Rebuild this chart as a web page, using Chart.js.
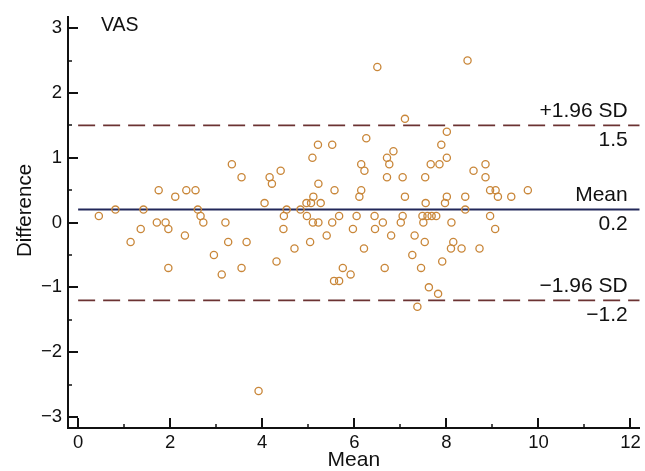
<!DOCTYPE html>
<html>
<head>
<meta charset="utf-8">
<script src="https://cdn.jsdelivr.net/npm/chart.js@4.4.1/dist/chart.umd.min.js"></script>
<style>
  html, body { margin: 0; padding: 0; background: #ffffff; }
  #wrap { width: 645px; height: 471px; }
</style>
</head>
<body>
<div id="wrap"><canvas id="c" width="645" height="471"></canvas></div>
<script>
// ---- data ----
const meanValues = [
  0.45, 0.81, 1.14, 1.36, 1.42, 1.75, 1.71, 1.90, 1.96, 1.96,
  2.11, 2.32, 2.35, 2.55, 2.60, 2.66, 2.72, 2.95, 3.12, 3.20,
  3.26, 3.34, 3.55, 3.66, 3.55, 3.92, 4.05, 4.16, 4.21, 4.31,
  4.40, 4.46, 4.47, 4.53, 4.70, 4.83, 4.96, 4.97, 5.04, 5.06,
  5.09, 5.10, 5.11, 5.21, 5.22, 5.22, 5.27, 5.40, 5.52, 5.52,
  5.56, 5.57, 5.67, 5.67, 5.75, 5.92, 5.97, 6.05, 6.11, 6.15,
  6.15, 6.21, 6.22, 6.26, 6.44, 6.45, 6.50, 6.62, 6.66, 6.71,
  6.71, 6.76, 6.80, 6.85, 7.01, 7.05, 7.05, 7.10, 7.10, 7.26,
  7.31, 7.37, 7.45, 7.48, 7.50, 7.53, 7.54, 7.55, 7.59, 7.62,
  7.66, 7.68, 7.78, 7.82, 7.85, 7.89, 7.91, 7.97, 8.01, 8.01,
  8.01, 8.10, 8.11, 8.15, 8.33, 8.41, 8.41, 8.46, 8.59, 8.72,
  8.85, 8.85, 8.95, 8.95, 9.06, 9.07, 9.12, 9.41, 9.77
];
const differenceValues = [
  0.1, 0.2, -0.3, -0.1, 0.2, 0.5, 0.0, 0.0, -0.1, -0.7,
  0.4, -0.2, 0.5, 0.5, 0.2, 0.1, 0.0, -0.5, -0.8, 0.0,
  -0.3, 0.9, 0.7, -0.3, -0.7, -2.6, 0.3, 0.7, 0.6, -0.6,
  0.8, -0.1, 0.1, 0.2, -0.4, 0.2, 0.3, 0.1, -0.3, 0.3,
  1.0, 0.0, 0.4, 1.2, 0.6, 0.0, 0.3, -0.2, 1.2, 0.0,
  -0.9, 0.5, 0.1, -0.9, -0.7, -0.8, -0.1, 0.1, 0.4, 0.9,
  0.5, -0.4, 0.8, 1.3, 0.1, -0.1, 2.4, 0.0, -0.7, 1.0,
  0.7, 0.9, -0.2, 1.1, 0.0, 0.7, 0.1, 1.6, 0.4, -0.5,
  -0.2, -1.3, -0.7, 0.1, 0.0, -0.3, 0.7, 0.3, 0.1, -1.0,
  0.9, 0.1, 0.1, -1.1, 0.9, 1.2, -0.6, 0.3, 1.4, 1.0,
  0.4, -0.4, 0.0, -0.3, -0.4, 0.4, 0.2, 2.5, 0.8, -0.4,
  0.9, 0.7, 0.5, 0.1, -0.1, 0.5, 0.4, 0.4, 0.5
];
const referenceLineValues = [1.5, 0.2, -1.2];
const referenceLineNames  = ['+1.96 SD', 'Mean', '\u22121.96 SD'];
const referenceLineValueLabels = ['1.5', '0.2', '\u22121.2'];
const xTickValues = [0, 2, 4, 6, 8, 10, 12];
const xTickLabels = ['0', '2', '4', '6', '8', '10', '12'];
const xMinorTickValues = [1, 3, 5, 7, 9, 11];
const yTickValues = [-3, -2, -1, 0, 1, 2, 3];
const yTickLabels = ['\u22123', '\u22122', '\u22121', '0', '1', '2', '3'];
const yMinorTickValues = [-2.5, -1.5, -0.5, 0.5, 1.5, 2.5];
const panelLabel = 'VAS';
const xTitle = 'Mean';
const yTitle = 'Difference';

// ---- styling ----
const FONT = '"Liberation Sans", Arial, Helvetica, sans-serif';
const X_MIN = -0.22, X_MAX = 12.2;
const Y_MIN = -3.17, Y_MAX = 3.17;
const POINT_COLOR = '#c9873a';
const DASH_COLOR = '#6b3232';
const MEAN_COLOR = '#22285a';

const scatterData = meanValues.map((m, i) => ({ x: m, y: differenceValues[i] }));

const refDatasets = referenceLineValues.map((v, i) => ({
  type: 'line',
  label: referenceLineNames[i],
  data: [{ x: 0, y: v }, { x: X_MAX, y: v }],
  borderColor: i === 1 ? MEAN_COLOR : DASH_COLOR,
  borderWidth: i === 1 ? 2 : 1.8,
  borderDash: i === 1 ? [] : [17, 8],
  pointRadius: 0,
  fill: false,
  tension: 0,
  order: 2
}));

const decorPlugin = {
  id: 'decor',
  afterDraw(chart) {
    const ctx = chart.ctx;
    const xs = chart.scales.x, ys = chart.scales.y;
    const area = chart.chartArea;
    ctx.save();
    // inward ticks
    ctx.strokeStyle = '#111111';
    ctx.lineCap = 'butt';
    const drawX = (vals, len, w) => {
      ctx.lineWidth = w;
      vals.forEach(v => {
        const px = Math.round(xs.getPixelForValue(v));
        ctx.beginPath();
        ctx.moveTo(px, area.bottom);
        ctx.lineTo(px, area.bottom - len);
        ctx.stroke();
      });
    };
    const drawY = (vals, len, w) => {
      ctx.lineWidth = w;
      vals.forEach(v => {
        const py = Math.round(ys.getPixelForValue(v));
        ctx.beginPath();
        ctx.moveTo(area.left, py);
        ctx.lineTo(area.left + len, py);
        ctx.stroke();
      });
    };
    drawX(xTickValues, 10, 2);
    drawX(xMinorTickValues, 4, 1.5);
    drawY(yTickValues, 10, 2);
    drawY(yMinorTickValues, 4, 1.5);

    // reference line labels
    ctx.fillStyle = '#111111';
    ctx.font = '21px ' + FONT;
    ctx.textAlign = 'right';
    ctx.textBaseline = 'middle';
    const tx = area.right - 12;
    referenceLineValues.forEach((v, i) => {
      const py = ys.getPixelForValue(v);
      ctx.fillText(referenceLineNames[i], tx, py - 14);
      ctx.fillText(referenceLineValueLabels[i], tx, py + 15);
    });

    // panel label
    ctx.font = '19.5px ' + FONT;
    ctx.textAlign = 'left';
    ctx.fillText(panelLabel, 101, 26);

    // axis titles
    ctx.font = '21px ' + FONT;
    ctx.textAlign = 'center';
    ctx.fillText(xTitle, (area.left + area.right) / 2, 460);
    ctx.font = '20.5px ' + FONT;
    ctx.save();
    ctx.translate(25, 210.5);
    ctx.rotate(-Math.PI / 2);
    ctx.fillText(yTitle, 0, 0);
    ctx.restore();
    ctx.restore();
  }
};

new Chart(document.getElementById('c'), {
  type: 'scatter',
  data: {
    datasets: [
      {
        label: 'Difference vs Mean',
        data: scatterData,
        pointStyle: 'circle',
        pointRadius: 3.6,
        pointBorderWidth: 1.3,
        pointBorderColor: POINT_COLOR,
        pointBackgroundColor: 'rgba(255,255,255,0)',
        borderColor: POINT_COLOR,
        backgroundColor: 'rgba(255,255,255,0)',
        showLine: false,
        order: 1
      },
      ...refDatasets
    ]
  },
  options: {
    responsive: false,
    devicePixelRatio: 1,
    animation: false,
    layout: { padding: { top: 15, right: 4, left: 0, bottom: 0 } },
    plugins: {
      legend: { display: false },
      tooltip: { enabled: false },
      title: { display: false }
    },
    scales: {
      x: {
        type: 'linear',
        min: X_MIN,
        max: X_MAX,
        afterBuildTicks: s => { s.ticks = xTickValues.map(v => ({ value: v })); },
        afterFit: s => { s.height = 43; },
        grid: { display: false, drawTicks: false },
        border: { display: true, color: '#111111', width: 2 },
        ticks: {
          color: '#111111',
          font: { family: FONT, size: 18.5 },
          padding: 4,
          maxRotation: 0,
          autoSkip: false,
          callback: (v) => { const i = xTickValues.indexOf(v); return i >= 0 ? xTickLabels[i] : ''; }
        }
      },
      y: {
        type: 'linear',
        min: Y_MIN,
        max: Y_MAX,
        afterBuildTicks: s => { s.ticks = yTickValues.map(v => ({ value: v })); },
        afterFit: s => { s.width = 68; },
        grid: { display: false, drawTicks: false },
        border: { display: true, color: '#111111', width: 2 },
        ticks: {
          color: '#111111',
          font: { family: FONT, size: 18.5 },
          padding: 6,
          autoSkip: false,
          callback: (v) => { const i = yTickValues.indexOf(v); return i >= 0 ? yTickLabels[i] : ''; }
        }
      }
    }
  },
  plugins: [decorPlugin]
});
</script>
</body>
</html>
